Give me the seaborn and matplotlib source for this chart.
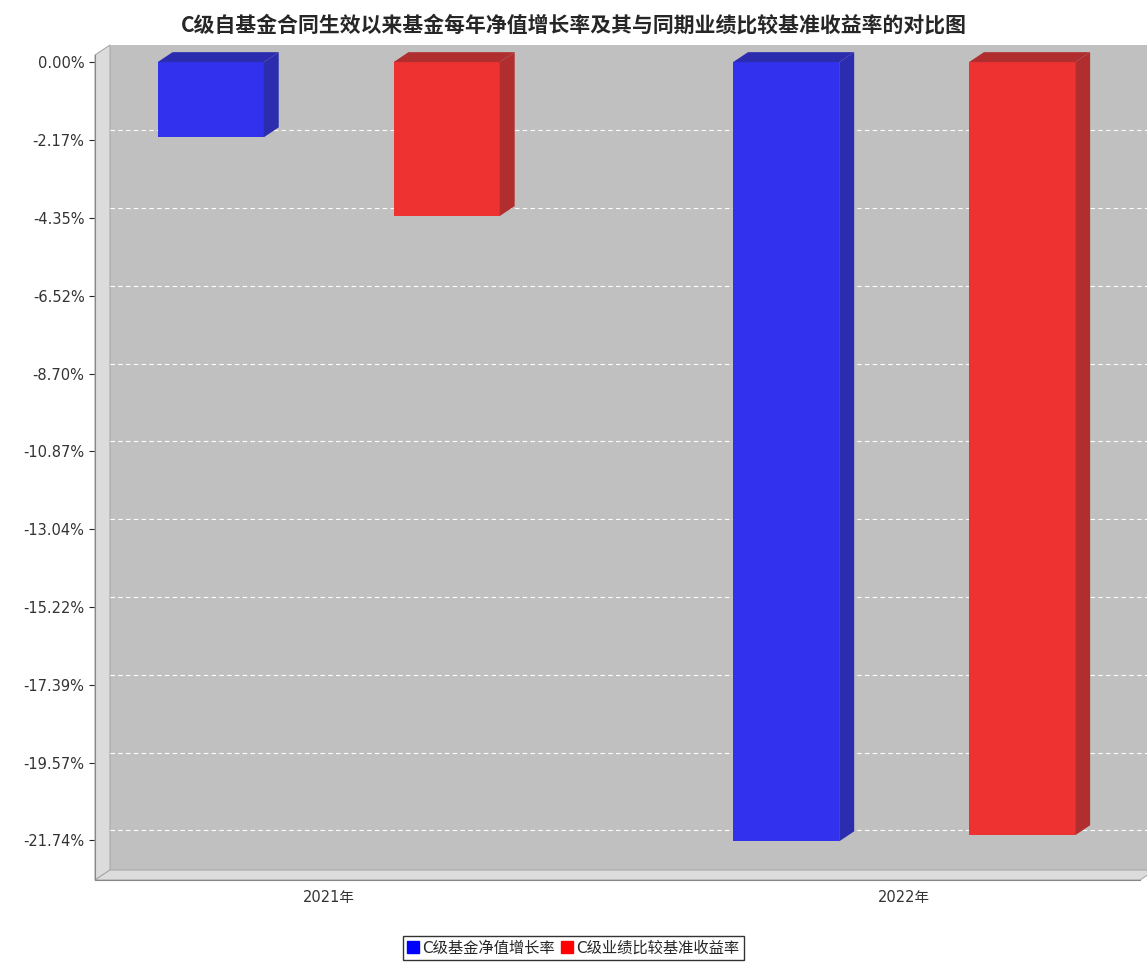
import matplotlib
matplotlib.use("Agg")
import matplotlib.pyplot as plt
import seaborn as sns
import pandas as pd
from matplotlib.patches import Polygon
from matplotlib.transforms import IdentityTransform

years = ["2021年", "2022年"]
series = ["C级基金净值增长率", "C级业绩比较基准收益率"]
fund_values = [-2.10, -21.77]
bench_values = [-4.30, -21.60]
tick_values = [0, -2.17, -4.35, -6.52, -8.70, -10.87, -13.04, -15.22, -17.39, -19.57, -21.74]

df = pd.DataFrame({
    "year": years * 2,
    "series": [series[0]] * 2 + [series[1]] * 2,
    "value": fund_values + bench_values,
})

sns.set_style("white")
plt.rcParams["font.family"] = ["DejaVu Sans", "Noto Sans CJK SC"]

fig = plt.figure(figsize=(11.47, 9.63), dpi=100)
ax = fig.add_axes([95 / 1147, 83 / 963, 1045 / 1147, 825 / 963])
ax.set_facecolor("none")
face = {series[0]: "#3232ee", series[1]: "#ee3232"}
side = {series[0]: "#2c2cae", series[1]: "#b02e2e"}
sns.barplot(data=df, x="year", y="value", hue="series", palette=face,
            width=0.82, gap=0.55, saturation=1, ax=ax, legend=False, zorder=3,
            linewidth=0)
ax.set_xlim(-0.406, 1.41)
ax.set_ylim(-22.85, 0.2)
ax.set_yticks(tick_values)
ax.set_yticklabels([f"{v:.2f}%" for v in tick_values], fontsize=10.5, color="#333333")
ax.tick_params(axis="x", labelsize=10.5, colors="#333333", length=4)
ax.tick_params(axis="y", length=4, left=True)
ax.set_xlabel("")
ax.set_ylabel("")
for s in ["top", "right"]:
    ax.spines[s].set_visible(False)
ax.spines["left"].set_color("#888888")
ax.spines["bottom"].set_color("#888888")
fig.canvas.draw()

dx, dy = 15, 10
td = ax.transData
x0p, y0p = td.transform((-0.406, 0.2))
x1p, y1p = td.transform((1.41, -22.85))
ident = IdentityTransform()

def poly(pts, color, z, ec="none"):
    p = Polygon(pts, closed=True, facecolor=color, edgecolor=ec, lw=0.8,
                transform=ident, zorder=z, clip_on=False)
    ax.add_patch(p)

# back wall, left wall, floor
poly([(x0p + dx, y1p + dy), (x1p + dx, y1p + dy), (x1p + dx, y0p + dy), (x0p + dx, y0p + dy)], "#c0c0c0", 0)
poly([(x0p, y1p), (x0p + dx, y1p + dy), (x0p + dx, y0p + dy), (x0p, y0p)], "#dcdcdc", 1, "#aaaaaa")
poly([(x0p, y1p), (x1p, y1p), (x1p + dx, y1p + dy), (x0p + dx, y1p + dy)], "#dcdcdc", 1, "#aaaaaa")
for v in tick_values[1:]:
    _, yp = td.transform((0, v))
    ax.plot([x0p + dx, x1p + dx], [yp + dy, yp + dy], color="white", lw=0.8,
            ls=(0, (4, 3)), transform=ident, zorder=2, clip_on=False)

for bar, name in zip(ax.patches[:4], [series[0]] * 2 + [series[1]] * 2):
    bx0, by_top = td.transform((bar.get_x(), 0))
    bx1, by_bot = td.transform((bar.get_x() + bar.get_width(), bar.get_height()))
    poly([(bx0, by_top), (bx1, by_top), (bx1 + dx, by_top + dy), (bx0 + dx, by_top + dy)], side[name], 4)
    poly([(bx1, by_top), (bx1, by_bot), (bx1 + dx, by_bot + dy), (bx1 + dx, by_top + dy)], side[name], 4)

fig.suptitle("C级自基金合同生效以来基金每年净值增长率及其与同期业绩比较基准收益率的对比图",
             y=0.985, fontsize=15, fontweight="bold", family=["Noto Sans CJK SC", "DejaVu Sans"])
handles = [plt.Line2D([], [], marker="s", ls="none", color=c, markersize=8)
           for c in ["#0000ff", "#ff0000"]]
leg = fig.legend(handles, series, loc="lower center", bbox_to_anchor=(0.5, -0.005), ncol=2,
                 frameon=True, fancybox=False, fontsize=11, handlelength=0.6,
                 handletextpad=0.3, columnspacing=0.5, borderpad=0.3)
leg.get_frame().set_edgecolor("black")
fig.savefig("out.png", dpi=100)
